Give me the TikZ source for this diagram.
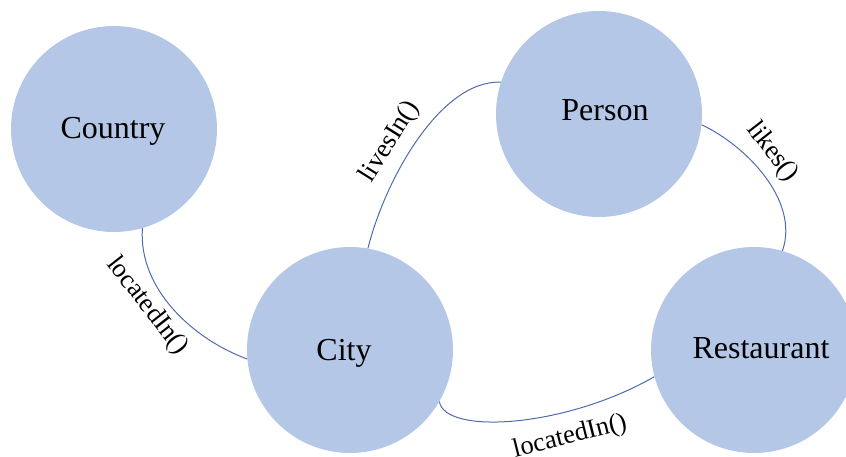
\documentclass[tikz,border=0pt]{standalone}
\usepackage{fontspec}
\setmainfont{Liberation Serif}
\definecolor{entfill}{HTML}{B4C7E7}
\definecolor{linkblue}{HTML}{4F6BB0}
\begin{document}
\begin{tikzpicture}[x=1pt,y=-1pt,
  entity/.style={circle,fill=entfill,draw=none,minimum size=206pt,inner sep=0pt},
  entname/.style={font=\fontsize{32}{36}\selectfont,text=black,inner sep=0pt},
  link/.style={draw=linkblue,line width=1pt},
  relname/.style={font=\fontsize{26.5}{30}\selectfont,text=black,inner sep=0pt}]
  \useasboundingbox (0,0) rectangle (846,456);

  % entities
  \node[entity] (country) at (114,129) {};
  \node[entity] (person) at (599,114) {};
  \node[entity] (city) at (350,350) {};
  \node[entity] (restaurant) at (754,350) {};

  \node[entname] (countrytxt) at (113,131) {Country};
  \node[entname] (persontxt) at (605,110) {Person};
  \node[entname] (citytxt) at (344,353) {City};
  \node[entname] (restauranttxt) at (761,348) {Restaurant};

  % relationships
  \draw[link] (country.-74) .. controls (138,290) and (195,340) .. (city.185);
  \draw[link] (city.80) .. controls (385,180) and (440,80) .. (person.162);
  \draw[link] (person.-6) .. controls (745,145) and (800,200) .. (restaurant.74);
  \draw[link] (city.-30) .. controls (445,435) and (565,428) .. (restaurant.195);

  \node[relname,rotate=-52] (locA) at (147,306) {locatedIn()};
  \node[relname,rotate=58] (lives) at (390,142) {livesIn()};
  \node[relname,rotate=-52] (likes) at (772,152) {likes()};
  \node[relname,rotate=14] (locB) at (570,437) {locatedIn()};
\end{tikzpicture}
\end{document}
